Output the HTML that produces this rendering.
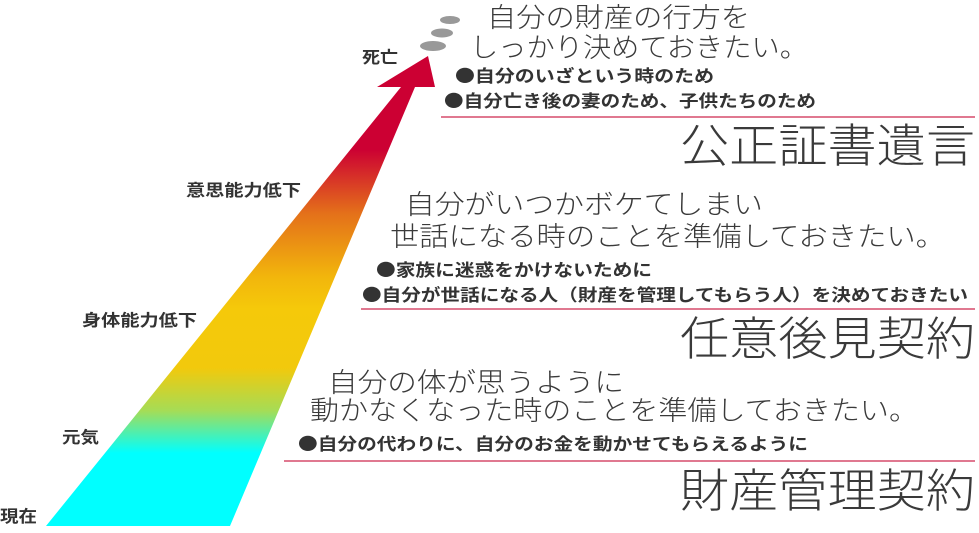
<!DOCTYPE html>
<html><head><meta charset="utf-8"><style>
html,body{margin:0;padding:0;background:#fff;}
svg{display:block;}
text{font-family:"Noto Sans CJK JP","Liberation Sans",sans-serif;fill:#333;}
.h{font-size:27px;font-weight:300;fill:#3a3a3a;}
.b{font-size:17px;font-weight:bold;}
.t{font-size:46px;font-weight:300;fill:#3a3a3a;}
.l{font-size:16.5px;font-weight:bold;}
</style></head><body>
<svg width="979" height="533" viewBox="0 0 979 533" xmlns="http://www.w3.org/2000/svg">
<defs>
<linearGradient id="g" x1="0" y1="0" x2="0" y2="533" gradientUnits="userSpaceOnUse">
<stop offset="0" stop-color="#cc0033"/>
<stop offset="0.28" stop-color="#cc0033"/>
<stop offset="0.40" stop-color="#e4701a"/>
<stop offset="0.52" stop-color="#f2b60c"/>
<stop offset="0.58" stop-color="#f5c90a"/>
<stop offset="0.69" stop-color="#f2c90c"/>
<stop offset="0.77" stop-color="#a6dc55"/>
<stop offset="0.85" stop-color="#00ffff"/>
<stop offset="1" stop-color="#00ffff"/>
</linearGradient>
</defs>
<polygon points="46,526 230,526 415,87 435,87 428,56 377,87 401,87" fill="url(#g)"/>
<ellipse cx="450" cy="20" rx="10" ry="4" fill="#999"/>
<ellipse cx="442" cy="33" rx="11" ry="4.5" fill="#999"/>
<ellipse cx="433" cy="46" rx="13" ry="5" fill="#999"/>

<text class="l" x="362" y="63" textLength="36" lengthAdjust="spacingAndGlyphs">死亡</text>
<text class="l" x="186" y="196" textLength="115" lengthAdjust="spacingAndGlyphs">意思能力低下</text>
<text class="l" x="82" y="326" textLength="115" lengthAdjust="spacingAndGlyphs">身体能力低下</text>
<text class="l" x="62" y="443" textLength="37" lengthAdjust="spacingAndGlyphs">元気</text>
<text class="l" x="0" y="522" textLength="37" lengthAdjust="spacingAndGlyphs">現在</text>

<text class="h" x="487" y="27" textLength="263" lengthAdjust="spacingAndGlyphs">自分の財産の行方を</text>
<text class="h" x="470" y="57" textLength="338" lengthAdjust="spacingAndGlyphs">しっかり決めておきたい。</text>
<text class="b" x="455" y="82" textLength="259" lengthAdjust="spacingAndGlyphs">●自分のいざという時のため</text>
<text class="b" x="444" y="107" textLength="372" lengthAdjust="spacingAndGlyphs">●自分亡き後の妻のため、子供たちのため</text>
<line x1="441" y1="117" x2="975" y2="117" stroke="#e07890" stroke-width="2"/>
<text class="t" x="680" y="162" textLength="295" lengthAdjust="spacingAndGlyphs">公正証書遺言</text>

<text class="h" x="405" y="214" textLength="358" lengthAdjust="spacingAndGlyphs">自分がいつかボケてしまい</text>
<text class="h" x="390" y="246" textLength="555" lengthAdjust="spacingAndGlyphs">世話になる時のことを準備しておきたい。</text>
<text class="b" x="376" y="276" textLength="276" lengthAdjust="spacingAndGlyphs">●家族に迷惑をかけないために</text>
<text class="b" x="362" y="301" textLength="606" lengthAdjust="spacingAndGlyphs">●自分が世話になる人（財産を管理してもらう人）を決めておきたい</text>
<line x1="361" y1="309" x2="975" y2="309" stroke="#e07890" stroke-width="2"/>
<text class="t" x="680" y="355" textLength="295" lengthAdjust="spacingAndGlyphs">任意後見契約</text>

<text class="h" x="328" y="392" textLength="296" lengthAdjust="spacingAndGlyphs">自分の体が思うように</text>
<text class="h" x="310" y="420" textLength="608" lengthAdjust="spacingAndGlyphs">動かなくなった時のことを準備しておきたい。</text>
<text class="b" x="298" y="450" textLength="510" lengthAdjust="spacingAndGlyphs">●自分の代わりに、自分のお金を動かせてもらえるように</text>
<line x1="284" y1="461" x2="975" y2="461" stroke="#e07890" stroke-width="2"/>
<text class="t" x="680" y="507" textLength="295" lengthAdjust="spacingAndGlyphs">財産管理契約</text>
</svg>
</body></html>
